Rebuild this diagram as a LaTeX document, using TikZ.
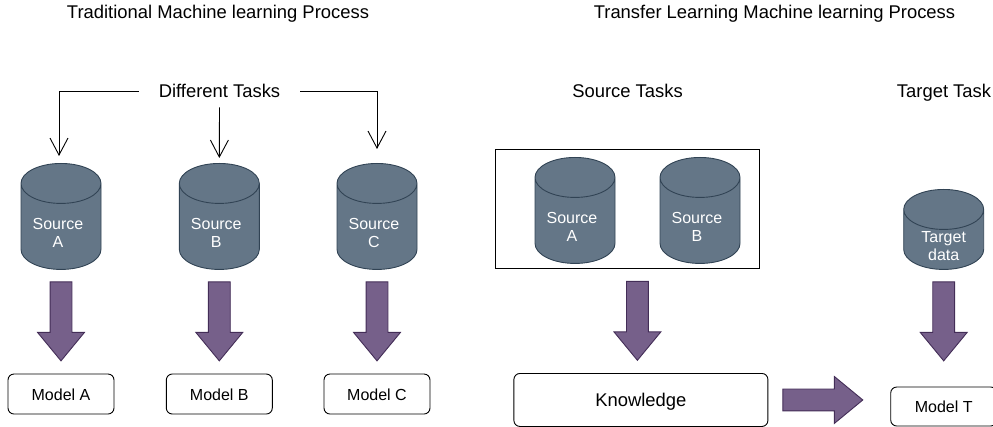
\documentclass[tikz,border=0pt]{standalone}
\usepackage{fontspec}
\setmainfont{Liberation Sans}
\usepackage{xcolor}
\usetikzlibrary{positioning, arrows.meta, shapes.geometric, shapes.arrows}
\definecolor{srcfill}{HTML}{647687}
\definecolor{srcline}{HTML}{314354}
\definecolor{bigfill}{HTML}{76608A}
\definecolor{bigline}{HTML}{432D57}

\begin{document}
\begin{tikzpicture}[
    x=1pt, y=1pt,
    node distance=11.5pt,
    line width=0.9pt,
    plain/.style={inner sep=0pt, text height=17pt, text depth=4pt, font=\fontsize{18.4}{21}\selectfont},
    srctext/.style={text=white, align=center, inner sep=0pt, xshift=-3pt, yshift=4pt, font=\fontsize{16}{18}\selectfont},
    srcshape/.style={cylinder, shape border rotate=90, aspect=0.5, draw=srcline, cylinder uses custom fill, cylinder body fill=srcfill, cylinder end fill=srcfill, minimum height=106pt, inner xsep=40pt, inner ysep=0pt, anchor=north},
    source/.style={srcshape, label={[srctext, name=\tikzlastnode text]center:{#1}}},
    model/.style={draw=black, rounded corners=6pt, minimum width=106pt, minimum height=40pt, inner sep=0pt, text height=12pt, text depth=0pt, font=\fontsize{16}{18}\selectfont},
    bigdown/.style={single arrow, shape border rotate=270, draw=bigline, fill=bigfill, minimum height=79pt, single arrow head extend=12.5pt, single arrow tip angle=79, inner xsep=10.5pt, inner ysep=0pt},
    bigright/.style={bigdown, shape border rotate=0, minimum height=80pt, inner xsep=0pt, inner ysep=10.5pt},
    arrow/.style={-{Straight Barb[length=17pt, width=18pt]}, draw=black}
]
\useasboundingbox (0,0) rectangle (993,-427);

% titles
\node[plain] (title1) at (218,-12) {Traditional Machine learning Process};
\node[plain] (title2) at (774.5,-12) {Transfer Learning Machine learning Process};

% left part
\node[plain, minimum width=161pt, minimum height=32pt] (tasks) at (219.5,-91) {Different Tasks};
\node[source={Source\\A}] (srcA) at (61,-163) {};
\node[source={Source\\B}] (srcB) at (219.3,-163) {};
\node[source={Source\\C}] (srcC) at (377,-163) {};
\node[bigdown, below=of srcA] (downA) {};
\node[bigdown, below=of srcB] (downB) {};
\node[bigdown, below=of srcC] (downC) {};
\node[model, below=12pt of downA] (modelA) {Model A};
\node[model, below=12pt of downB] (modelB) {Model B};
\node[model, below=12pt of downC] (modelC) {Model C};

\draw[arrow, shorten >=7pt] (tasks.west) -| ([xshift=-2pt]srcA.north);
\draw[arrow, shorten >=5pt] (tasks.south) -- (srcB.north);
\draw[arrow, shorten >=14pt] (tasks.east) -| (srcC.north);

% right part
\node[plain] (srcTasks) at (627.5,-91) {Source Tasks};
\node[plain] (tgtTask) at (944,-91) {Target Task};
\node[draw=black, minimum width=264pt, minimum height=119pt, inner sep=0pt] (frame) at (627.4,-209.4) {};
\node[source={Source\\A}] (srcD) at (575,-157) {};
\node[source={Source\\B}] (srcE) at (700,-157) {};
\node[bigdown, below=of frame, xshift=10pt] (downK) {};
\node[model, minimum width=254pt, minimum height=53pt, below=12pt of downK, xshift=3.5pt, text height=17pt, text depth=4pt, font=\fontsize{18.4}{21}\selectfont] (know) {Knowledge};
\node[bigright, right=14pt of know] (rightK) {};
\node[srcshape, minimum height=80pt, label={[srctext, xshift=3pt, name=tgt text]center:{Target\\data}}] (tgt) at (943.7,-189) {};
\node[bigdown, below=of tgt] (downT) {};
\node[model, below=25pt of downT, minimum height=39pt] (modelT) {Model T};
\end{tikzpicture}
\end{document}
